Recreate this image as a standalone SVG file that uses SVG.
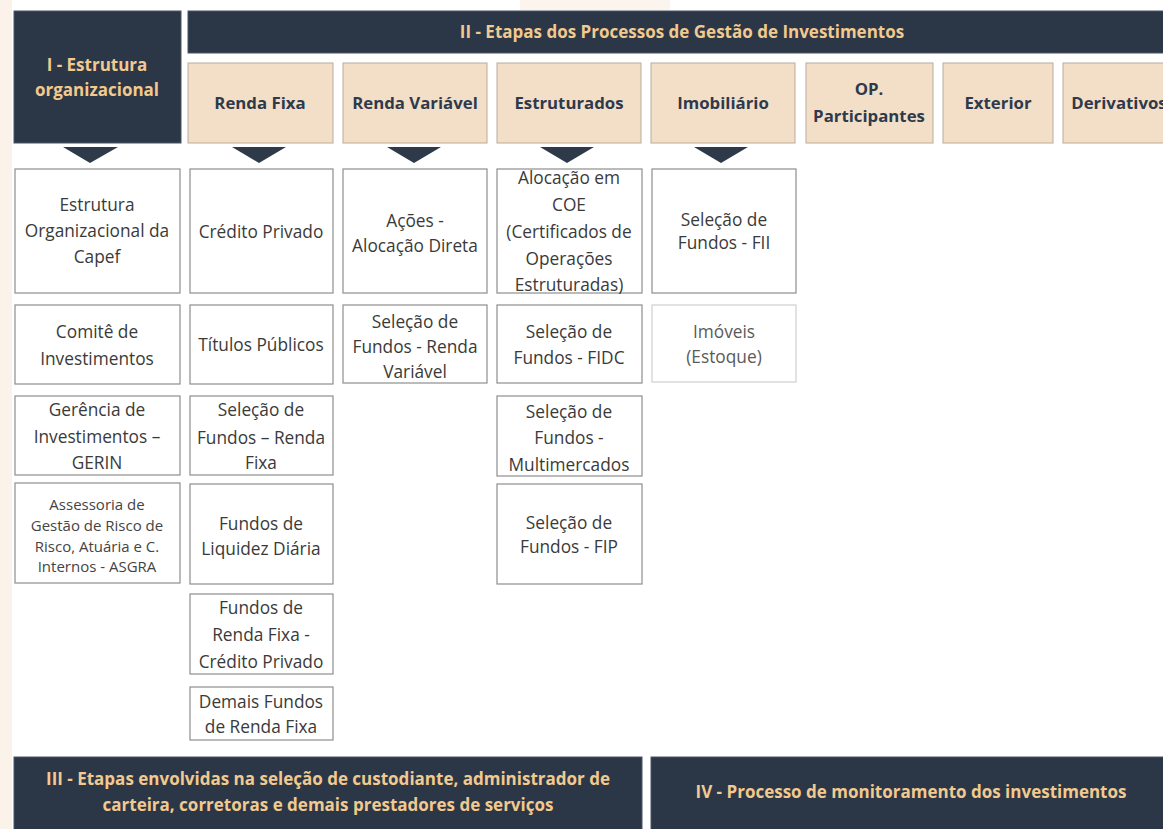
<svg xmlns="http://www.w3.org/2000/svg" width="1163" height="829" viewBox="0 0 1163 829">
<style>
.bg{fill:#ffffff}
.dark{fill:#2b3747;stroke:#4a5564;stroke-width:1}
.hdr{fill:#f3dfc8;stroke:#b9ab9b;stroke-width:1}
.box{fill:#ffffff;stroke:#8e8e8e;stroke-width:1.2}
.boxl{fill:#ffffff;stroke:#cfcfcf;stroke-width:1.2}
.tri{fill:#2e3a49}
text{font-family:"Open Sans","Noto Sans","DejaVu Sans",sans-serif;text-anchor:middle}
.gold{fill:#f2c98e;font-weight:700;font-size:17px}
.ht{fill:#2e3a4c;font-weight:700;font-size:16.8px}
.bt{fill:#3a3a3a;font-size:17.3px}
.st{fill:#444444;font-size:15px}
.lt{fill:#5a5a5a;font-size:17.3px}
</style>
<rect class="bg" x="0" y="0" width="1163" height="829"/>
<rect x="0" y="0" width="12" height="829" fill="#fbf3ea"/>
<rect x="520" y="0" width="150" height="10" fill="#fcf5ee"/>

<g id="header-I">
<rect class="dark" x="14" y="11" width="167" height="132"/>
<text class="gold" x="97" y="71">I - Estrutura</text>
<text class="gold" x="97" y="96">organizacional</text>
</g>
<g id="header-II">
<rect class="dark" x="188" y="11" width="990" height="42"/>
<text class="gold" x="682" y="38">II - Etapas dos Processos de Gestão de Investimentos</text>
</g>

<g id="hdr-renda-fixa"><rect class="hdr" x="188" y="63" width="145" height="80"/><text class="ht" x="260" y="109">Renda Fixa</text></g>
<g id="hdr-renda-variavel"><rect class="hdr" x="343" y="63" width="144" height="80"/><text class="ht" x="415" y="109">Renda Variável</text></g>
<g id="hdr-estruturados"><rect class="hdr" x="497" y="63" width="144" height="80"/><text class="ht" x="569" y="109">Estruturados</text></g>
<g id="hdr-imobiliario"><rect class="hdr" x="651" y="63" width="144" height="80"/><text class="ht" x="723" y="109">Imobiliário</text></g>
<g id="hdr-op"><rect class="hdr" x="806" y="63" width="127" height="80"/><text class="ht" x="869" y="95">OP.</text><text class="ht" x="869" y="122">Participantes</text></g>
<g id="hdr-exterior"><rect class="hdr" x="943" y="63" width="110" height="80"/><text class="ht" x="998" y="109">Exterior</text></g>
<g id="hdr-derivativos"><rect class="hdr" x="1063" y="63" width="112" height="80"/><text class="ht" x="1119" y="109">Derivativos</text></g>

<g id="connectors">
<polygon class="tri" points="63,147 118,147 90,163"/>
<polygon class="tri" points="232,147 286,147 259,163"/>
<polygon class="tri" points="387,147 441,147 414,163"/>
<polygon class="tri" points="540,147 594,147 567,163"/>
<polygon class="tri" points="694,147 748,147 721,163"/>
</g>

<g id="c1r1"><rect class="box" x="15" y="169" width="165" height="124"/><text class="bt" x="97" y="211">Estrutura</text><text class="bt" x="97" y="237">Organizacional da</text><text class="bt" x="97" y="263">Capef</text></g>
<g id="c1r2"><rect class="box" x="15" y="305" width="165" height="79"/><text class="bt" x="97" y="338">Comitê de</text><text class="bt" x="97" y="365">Investimentos</text></g>
<g id="c1r3"><rect class="box" x="15" y="396" width="165" height="79"/><text class="bt" x="97" y="416">Gerência de</text><text class="bt" x="97" y="443">Investimentos –</text><text class="bt" x="97" y="469">GERIN</text></g>
<g id="c1r4"><rect class="box" x="15" y="483" width="165" height="100"/><text class="st" x="97" y="510">Assessoria de</text><text class="st" x="97" y="531">Gestão de Risco de</text><text class="st" x="97" y="552">Risco, Atuária e C.</text><text class="st" x="97" y="572">Internos - ASGRA</text></g>

<g id="c2r1"><rect class="box" x="190" y="169" width="143" height="124"/><text class="bt" x="261" y="238">Crédito Privado</text></g>
<g id="c2r2"><rect class="box" x="190" y="305" width="143" height="79"/><text class="bt" x="261" y="351">Títulos Públicos</text></g>
<g id="c2r3"><rect class="box" x="190" y="396" width="143" height="79"/><text class="bt" x="261" y="416">Seleção de</text><text class="bt" x="261" y="444">Fundos – Renda</text><text class="bt" x="261" y="469">Fixa</text></g>
<g id="c2r4"><rect class="box" x="190" y="484" width="143" height="100"/><text class="bt" x="261" y="530">Fundos de</text><text class="bt" x="261" y="555">Liquidez Diária</text></g>
<g id="c2r5"><rect class="box" x="190" y="594" width="143" height="80"/><text class="bt" x="261" y="614">Fundos de</text><text class="bt" x="261" y="641">Renda Fixa -</text><text class="bt" x="261" y="668">Crédito Privado</text></g>
<g id="c2r6"><rect class="box" x="190" y="687" width="143" height="53"/><text class="bt" x="261" y="708">Demais Fundos</text><text class="bt" x="261" y="733">de Renda Fixa</text></g>

<g id="c3r1"><rect class="box" x="343" y="169" width="144" height="124"/><text class="bt" x="415" y="227">Ações -</text><text class="bt" x="415" y="252">Alocação Direta</text></g>
<g id="c3r2"><rect class="box" x="343" y="305" width="144" height="78"/><text class="bt" x="415" y="328">Seleção de</text><text class="bt" x="415" y="353">Fundos - Renda</text><text class="bt" x="415" y="378">Variável</text></g>

<g id="c4r1"><rect class="box" x="497" y="169" width="145" height="124"/><text class="bt" x="569" y="184">Alocação em</text><text class="bt" x="569" y="211">COE</text><text class="bt" x="569" y="238">(Certificados de</text><text class="bt" x="569" y="265">Operações</text><text class="bt" x="569" y="291">Estruturadas)</text></g>
<g id="c4r2"><rect class="box" x="497" y="305" width="145" height="78"/><text class="bt" x="569" y="338">Seleção de</text><text class="bt" x="569" y="364">Fundos - FIDC</text></g>
<g id="c4r3"><rect class="box" x="497" y="396" width="145" height="80"/><text class="bt" x="569" y="418">Seleção de</text><text class="bt" x="569" y="444">Fundos -</text><text class="bt" x="569" y="471">Multimercados</text></g>
<g id="c4r4"><rect class="box" x="497" y="484" width="145" height="100"/><text class="bt" x="569" y="529">Seleção de</text><text class="bt" x="569" y="553">Fundos - FIP</text></g>

<g id="c5r1"><rect class="box" x="652" y="169" width="144" height="124"/><text class="bt" x="724" y="226">Seleção de</text><text class="bt" x="724" y="249">Fundos - FII</text></g>
<g id="c5r2"><rect class="boxl" x="652" y="305" width="144" height="77"/><text class="lt" x="724" y="338">Imóveis</text><text class="lt" x="724" y="363">(Estoque)</text></g>

<g id="bar-III">
<rect class="dark" x="14" y="757" width="628" height="80"/>
<text class="gold" x="328" y="785">III - Etapas envolvidas na seleção de custodiante, administrador de</text>
<text class="gold" x="328" y="811">carteira, corretoras e demais prestadores de serviços</text>
</g>
<g id="bar-IV">
<rect class="dark" x="651" y="757" width="530" height="80"/>
<text class="gold" x="911" y="798">IV - Processo de monitoramento dos investimentos</text>
</g>
</svg>
